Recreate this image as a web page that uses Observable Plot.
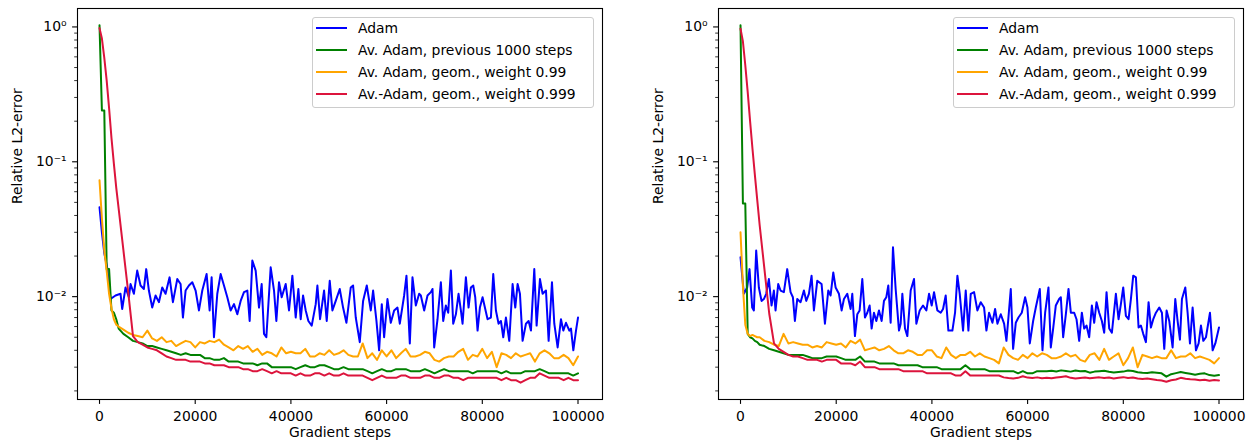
<!DOCTYPE html>
<html>
<head>
<meta charset="utf-8">
<script src="https://cdn.jsdelivr.net/npm/d3@7"></script>
<script src="https://cdn.jsdelivr.net/npm/@observablehq/plot@0.6"></script>
<style>
  body { margin: 0; background: white; }
  #wrap { position: relative; width: 1250px; height: 444px; display: flex; }
  .panel { position: relative; width: 625px; height: 444px; }
  .legend { position: absolute; top: 17px; width: 282px; height: 91px; box-sizing: border-box;
    border: 1px solid #cccccc; border-radius: 3px; background: rgba(255,255,255,0.8);
    font-family: "DejaVu Sans"; font-size: 13.9px; color: black; }
  .legend .h { position: absolute; left: 3px; width: 31px; height: 2px; }
  .legend .t { position: absolute; left: 45px; height: 22px; line-height: 22px; white-space: nowrap; }
</style>
</head>
<body>
<div id="wrap"></div>
<script>
const seriesNames = ["Adam", "Av. Adam, previous 1000 steps", "Av. Adam, geom., weight 0.99", "Av.-Adam, geom., weight 0.999"];
const seriesColors = ["blue", "green", "orange", "crimson"];
const xTicks = [0, 20000, 40000, 60000, 80000, 100000];
const yMajor = [1, 0.1, 0.01];
const yMajorLabels = ["10\u2070", "10\u207B\u00B9", "10\u207B\u00B2"];
const yMinor = [0.002,0.003,0.004,0.005,0.006,0.007,0.008,0.009,
                0.02,0.03,0.04,0.05,0.06,0.07,0.08,0.09,
                0.2,0.3,0.4,0.5,0.6,0.7,0.8,0.9];
const xLabel = "Gradient steps";
const yLabel = "Relative L2-error";

// shared step grid for the averaged series
const steps = [0,500,1000,1500,2000,2500,3000,3500,4000,
 5000,6000,7000,8000,9000,10000,11000,12000,13000,14000,
 15000,16000,17000,18000,19000,20000,21000,22000,23000,24000,
 25000,26000,27000,28000,29000,30000,31000,32000,33000,34000,
 35000,36000,37000,38000,39000,40000,41000,42000,43000,44000,
 45000,46000,47000,48000,49000,50000,51000,52000,53000,54000,
 55000,56000,57000,58000,59000,60000,61000,62000,63000,64000,
 65000,66000,67000,68000,69000,70000,71000,72000,73000,74000,
 75000,76000,77000,78000,79000,80000,81000,82000,83000,84000,
 85000,86000,87000,88000,89000,90000,91000,92000,93000,94000,
 95000,96000,97000,98000,99000,100000];

// ---- left panel ----
const adamStepsL = [0,500,1000,1600,2301,
 3347,4393,4742,5439,6137,6485,7182,7880,8577,9274,
 9762,10320,11017,11715,12412,13109,13807,14644,15341,16248,
 16945,17433,17991,18689,19386,20083,20781,21478,22385,23012,
 23431,23919,24616,25314,26011,26708,27406,28103,28800,29498,
 30195,30892,31380,31938,
 32635,33332,33890,34378,34866,35773,36470,36958,37516,38074,
 38911,39608,40305,41003,41560,42049,42537,43095,43653,44350,
 45186,45535,46093,46930,47487,48115,48673,49370,50207,50904,
 51602,52508,52996,53554,54391,55088,55855,56692,57180,57877,
 58435,58993,59481,60178,60876,61573,62270,62758,63665,64153,
 64850,65408,66105,66802,
 67156,67853,68551,69248,69597,69945,70642,71340,71828,72386,
 72874,73432,73920,74478,75035,75524,75872,76570,77127,77615,
 78104,78522,79010,79498,80056,80614,81102,81799,82287,82845,
 83403,83891,84379,84937,85634,86332,86889,87378,87866,88424,
 89121,89679,90167,90864,91352,92050,92607,93305,93863,94560,
 95048,95745,96443,96931,97489,98186,98535,99023,99580,100000];
const adamL = [0.046,0.030,0.021,0.0164,0.0096,
 0.0102,0.0105,0.0081,0.0117,0.0099,0.0124,0.0105,0.0156,0.0121,0.0114,
 0.0160,0.0111,0.0083,0.0102,0.0091,0.0117,0.0105,0.0139,0.0091,0.0135,
 0.0124,0.0070,0.0111,0.0121,0.0128,0.0111,0.0079,0.0111,0.0147,0.0079,
 0.0139,0.0050,0.0105,0.0147,0.0121,0.0099,0.0079,0.0088,0.0074,0.0093,
 0.0108,0.0111,0.0066,0.0185,
 0.0156,0.0083,0.0124,0.0053,0.0050,0.0165,0.0111,0.0066,0.0128,0.0099,
 0.0124,0.0079,0.0143,0.0070,0.0114,0.0068,0.0102,0.0079,0.0066,0.0061,
 0.0088,0.0121,0.0068,0.0111,0.0066,0.0131,0.0079,0.0093,0.0114,0.0083,
 0.0064,0.0117,0.0121,0.0070,0.0046,0.0093,0.0121,0.0079,0.0111,0.0066,
 0.0040,0.0088,0.0050,0.0096,0.0064,0.0079,0.0083,0.0063,0.0102,0.0143,
 0.0045,0.0139,0.0086,0.0105,
 0.0102,0.0079,0.0102,0.0108,0.0114,0.0042,0.0068,0.0128,0.0066,0.0086,
 0.0076,0.0156,0.0063,0.0074,0.0105,0.0079,0.0063,0.0139,0.0083,0.0117,
 0.0121,0.0099,0.0056,0.0083,0.0099,0.0081,0.0068,0.0070,0.0147,0.0079,
 0.0063,0.0066,0.0050,0.0070,0.0047,0.0124,0.0083,0.0124,0.0105,0.0047,
 0.0063,0.0066,0.0056,0.0160,0.0061,0.0135,0.0105,0.0111,0.0047,0.0128,
 0.0063,0.0042,0.0068,0.0056,0.0064,0.0056,0.0058,0.0040,0.0056,0.0070];
const avgL = [1.03,0.24,0.24,0.016,0.016,0.0079,0.0076,0.0068,0.0058,
 0.0053,0.0050,0.0047,0.0046,0.0045,0.0043,0.0043,0.0042,0.0041,0.0040,
 0.0039,0.0038,0.0037,0.0038,0.0037,0.0037,0.0037,0.0035,0.0035,0.0034,
 0.0034,0.0035,0.0033,0.0033,0.0033,0.0032,0.0032,0.0032,0.0031,0.0032,
 0.0032,0.0030,0.0030,0.0030,0.0030,0.0030,0.0029,0.0030,0.0031,0.0030,
 0.0030,0.0031,0.0031,0.0030,0.0029,0.0029,0.0030,0.0029,0.0029,0.0029,
 0.0029,0.0028,0.0027,0.0028,0.0029,0.0028,0.0028,0.0029,0.0029,0.0029,
 0.0028,0.0028,0.0028,0.0029,0.0028,0.0027,0.0028,0.0029,0.0028,0.0028,
 0.0028,0.0028,0.0028,0.0027,0.0028,0.0028,0.0028,0.0028,0.0028,0.0027,
 0.0028,0.0027,0.0027,0.0027,0.0028,0.0028,0.0028,0.0029,0.0028,0.0027,
 0.0027,0.0027,0.0027,0.0027,0.0026,0.0027];
const geo99L = [0.073,0.038,0.022,0.0155,0.0105,0.0082,0.0068,0.0062,0.0060,
 0.0057,0.0054,0.0052,0.0051,0.0050,0.0056,0.0049,0.0047,0.0050,0.0046,
 0.0047,0.0043,0.0045,0.0047,0.0046,0.0042,0.0046,0.0045,0.0047,0.0046,
 0.0048,0.0044,0.0042,0.0040,0.0043,0.0041,0.0043,0.0039,0.0041,0.0037,
 0.0039,0.0038,0.0036,0.0042,0.0038,0.0039,0.0038,0.0038,0.0041,0.0036,
 0.0036,0.0038,0.0037,0.0040,0.0037,0.0038,0.0040,0.0037,0.0036,0.0036,
 0.0045,0.0035,0.0038,0.0034,0.0040,0.0036,0.0040,0.0035,0.0038,0.0041,
 0.0036,0.0036,0.0037,0.0039,0.0038,0.0034,0.0033,0.0035,0.0036,0.0036,
 0.0039,0.0041,0.0034,0.0037,0.0036,0.0041,0.0035,0.0039,0.0030,0.0038,
 0.0037,0.0035,0.0038,0.0036,0.0037,0.0038,0.0033,0.0038,0.0040,0.0038,
 0.0035,0.0035,0.0037,0.0035,0.0031,0.0036];
const geo999L = [0.98,0.82,0.59,0.40,0.25,0.15,0.097,0.064,0.045,
 0.022,0.0108,0.0051,0.0046,0.0044,0.0042,0.0041,0.0040,0.0038,0.0036,
 0.0035,0.0034,0.0034,0.0034,0.0033,0.0033,0.0033,0.0032,0.0032,0.0031,
 0.0031,0.0031,0.0030,0.0030,0.0030,0.0029,0.0029,0.0028,0.0028,0.0029,
 0.0028,0.0027,0.0028,0.0027,0.0027,0.0027,0.0026,0.0027,0.0026,0.0026,
 0.0027,0.0027,0.0026,0.0027,0.0026,0.0026,0.0027,0.0026,0.0026,0.0026,
 0.0026,0.0025,0.0024,0.0025,0.0026,0.0025,0.0025,0.0025,0.0026,0.0026,
 0.0025,0.0025,0.0025,0.0026,0.0026,0.0025,0.0025,0.0026,0.0026,0.0025,
 0.0025,0.0024,0.0025,0.0025,0.0025,0.0025,0.0025,0.0025,0.0025,0.0024,
 0.0025,0.0024,0.0024,0.0023,0.0024,0.0025,0.0025,0.0027,0.0026,0.0025,
 0.0025,0.0025,0.0024,0.0025,0.0024,0.0024];

// ---- right panel ----
const adamStepsR = [0,697,1395,1883,2441,2789,3277,3835,4393,4881,
 5369,5927,6485,6973,7322,7880,8368,9065,9762,10459,
 10948,11366,11854,12551,13249,13737,14295,14852,15341,16038,
 16945,17642,18339,18827,19385,19873,20570,21128,21616,22314,
 23011,23360,23917,24405,24894,25451,26009,26497,26985,27404,
 27892,28380,28938,29496,29984,30472,30890,31378,31867,32424,
 33121,
 33472,33821,34378,34866,35564,36261,36749,37447,38144,38841,
 39399,39957,40445,41142,41840,42328,42886,43443,44280,44838,
 45326,45814,46511,47069,47627,48115,48813,49510,50207,50904,
 51393,51950,52648,53206,53694,54391,55088,55576,55995,56483,
 56971,57529,58086,58784,59481,59969,60457,61155,61713,62549,
 63107,63665,64362,64850,65339,65896,66593,
 66944,67432,67990,68548,69036,69733,70221,70779,71337,71825,
 72313,72871,73429,73917,74405,74963,75520,76009,76497,77055,
 77613,78449,79007,79495,79983,80541,81099,81587,82075,82633,
 83190,83679,84167,84725,85282,85771,86259,86817,87514,88072,
 88560,89048,89606,90303,90861,91349,91837,92256,92953,93441,
 93929,94487,95185,95742,96230,96719,97276,98113,98671,99229,
 100000];
const adamR = [0.0196,0.0105,0.0117,0.0160,0.0083,0.0079,0.0220,0.0117,0.0093,0.0096,
 0.0105,0.0135,0.0086,0.0111,0.0079,0.0124,0.0111,0.0108,0.0160,0.0108,
 0.0099,0.0066,0.0096,0.0091,0.0111,0.0093,0.0105,0.0143,0.0079,0.0131,
 0.0124,0.0063,0.0111,0.0102,0.0151,0.0117,0.0105,0.0079,0.0096,0.0105,
 0.0081,0.0105,0.0051,0.0074,0.0079,0.0135,0.0070,0.0076,0.0086,0.0058,
 0.0076,0.0066,0.0079,0.0066,0.0093,0.0099,0.0121,0.0064,0.0232,0.0114,
 0.0056,
 0.0063,0.0105,0.0058,0.0051,0.0111,0.0135,0.0063,0.0079,0.0086,0.0079,
 0.0105,0.0086,0.0108,0.0079,0.0076,0.0081,0.0102,0.0056,0.0056,0.0076,
 0.0143,0.0105,0.0056,0.0111,0.0056,0.0105,0.0108,0.0079,0.0091,0.0083,
 0.0056,0.0076,0.0064,0.0081,0.0063,0.0074,0.0063,0.0047,0.0070,0.0114,
 0.0041,0.0064,0.0070,0.0076,0.0099,0.0083,0.0045,0.0066,0.0083,0.0114,
 0.0040,0.0076,0.0117,0.0042,0.0058,0.0086,0.0096,
 0.0099,0.0050,0.0074,0.0114,0.0076,0.0076,0.0068,0.0047,0.0076,0.0058,
 0.0061,0.0050,0.0086,0.0064,0.0091,0.0076,0.0066,0.0054,0.0108,0.0058,
 0.0054,0.0105,0.0068,0.0088,0.0117,0.0072,0.0068,0.0096,0.0143,0.0139,
 0.0059,0.0061,0.0053,0.0046,0.0091,0.0059,0.0068,0.0076,0.0083,0.0076,
 0.0041,0.0079,0.0066,0.0042,0.0096,0.0066,0.0048,0.0096,0.0117,0.0076,
 0.0045,0.0083,0.0040,0.0045,0.0061,0.0047,0.0050,0.0076,0.0040,0.0045,
 0.0059];
const avgR = [1.03,0.049,0.049,0.0053,0.0050,0.0049,0.0047,0.0046,0.0044,
 0.0043,0.0041,0.0040,0.0039,0.0038,0.0037,0.0037,0.0037,0.0037,0.0036,
 0.0035,0.0035,0.0035,0.0036,0.0036,0.0036,0.0035,0.0034,0.0034,0.0034,
 0.0036,0.0033,0.0033,0.0033,0.0032,0.0032,0.0032,0.0032,0.0031,0.0031,
 0.0031,0.0031,0.0031,0.0030,0.0030,0.0030,0.0030,0.0029,0.0029,0.0029,
 0.0029,0.0029,0.0031,0.0029,0.0029,0.0029,0.0029,0.0028,0.0028,0.0028,
 0.0028,0.0028,0.0028,0.0027,0.0028,0.0027,0.0027,0.0028,0.0028,0.0028,
 0.00282,0.00279,0.00284,0.00281,0.00278,0.00283,0.00280,0.00281,0.00273,0.00278,
 0.00280,0.00282,0.00277,0.00274,0.00276,0.00278,0.00283,0.00281,0.00275,0.00273,
 0.00272,0.00275,0.00273,0.00270,0.00255,0.00266,0.00271,0.00276,0.00272,0.00268,
 0.00264,0.00268,0.00270,0.00262,0.00259,0.00262];
const geo99R = [0.030,0.012,0.0062,0.0053,0.0051,0.0052,0.0051,0.0050,0.0050,
 0.0047,0.0046,0.0044,0.0043,0.0053,0.0045,0.0046,0.0045,0.0044,0.0044,
 0.0042,0.0043,0.0042,0.0046,0.0045,0.0044,0.0045,0.0042,0.0047,0.0045,
 0.0048,0.0040,0.0041,0.0042,0.0040,0.0041,0.0043,0.0040,0.0038,0.0038,
 0.0040,0.0039,0.0037,0.0037,0.0040,0.0040,0.0036,0.0035,0.0042,0.0037,
 0.0035,0.0037,0.0037,0.0039,0.0036,0.0038,0.0036,0.0035,0.0034,0.0032,
 0.0042,0.0037,0.0035,0.0034,0.0037,0.0035,0.0038,0.0036,0.0038,0.0037,
 0.0035,0.0035,0.0036,0.0038,0.0036,0.0037,0.0034,0.0033,0.0037,0.0038,
 0.0034,0.0041,0.0034,0.0036,0.0038,0.0031,0.0035,0.0042,0.0030,0.0037,
 0.0036,0.0035,0.0036,0.0035,0.0035,0.0040,0.0035,0.0036,0.0036,0.0038,
 0.0035,0.0036,0.0035,0.0034,0.0032,0.0035];
const geo999R = [0.97,0.78,0.52,0.33,0.20,0.125,0.080,0.052,0.034,
 0.016,0.0075,0.0045,0.0041,0.0039,0.0037,0.0036,0.0036,0.0035,0.0034,
 0.0034,0.0034,0.0033,0.0034,0.0034,0.0034,0.0032,0.0032,0.0032,0.0031,
 0.0033,0.0030,0.0030,0.0030,0.0029,0.0029,0.0029,0.0029,0.0029,0.0028,
 0.0028,0.0028,0.0028,0.0028,0.0027,0.0027,0.0027,0.0027,0.0027,0.0027,
 0.0026,0.0026,0.0028,0.0026,0.0026,0.0026,0.0026,0.0026,0.0026,0.0026,
 0.00252,0.00249,0.00247,0.00250,0.00257,0.00251,0.00249,0.00252,0.00248,0.00250,
 0.00248,0.00251,0.00254,0.00257,0.00250,0.00247,0.00249,0.00251,0.00248,0.00250,
 0.00252,0.00249,0.00251,0.00247,0.00250,0.00253,0.00249,0.00251,0.00247,0.00245,
 0.00247,0.00244,0.00241,0.00239,0.00234,0.00240,0.00243,0.00250,0.00246,0.00244,
 0.00243,0.00240,0.00242,0.00238,0.00241,0.00239];

const panels = [
  {adamSteps: adamStepsL, series: [adamL, avgL, geo99L, geo999L], marginLeft: 77, marginRight: 23},
  {adamSteps: adamStepsR, series: [adamR, avgR, geo99R, geo999R], marginLeft: 93, marginRight: 7}
];

const wrap = document.getElementById("wrap");
panels.forEach((p, pi) => {
  const data = [];
  p.series.forEach((arr, k) => {
    const xs = k === 0 ? p.adamSteps : steps;
    if (arr.length !== xs.length) throw new Error("panel " + pi + " series " + k + " length " + arr.length + " vs " + xs.length);
    arr.forEach((v, i) => data.push({step: xs[i], value: v, name: seriesNames[k]}));
  });

  const chart = Plot.plot({
    width: 625, height: 444,
    marginLeft: p.marginLeft, marginRight: p.marginRight, marginTop: 8, marginBottom: 45,
    style: {fontFamily: "DejaVu Sans", fontSize: "13.9px", color: "black", background: "white", overflow: "visible"},
    x: {domain: [-4600, 105120]},
    y: {type: "log", domain: [0.001727, 1.37]},
    color: {domain: seriesNames, range: seriesColors},
    marks: [
      Plot.axisX({ticks: xTicks, tickSize: 4.9, tickPadding: 7, strokeWidth: 1.1, tickFormat: d => String(d), label: null}),
      Plot.axisY({ticks: yMajor, tickSize: 4.9, tickPadding: 6, strokeWidth: 1.1, tickFormat: d => yMajorLabels[yMajor.indexOf(d)], label: null}),
      Plot.axisY({ticks: yMinor, tickSize: 2.8, strokeWidth: 0.8, tickFormat: () => "", label: null}),
      Plot.lineY(data, {x: "step", y: "value", z: "name", stroke: "name", strokeWidth: 2}),
      Plot.frame({stroke: "black", strokeWidth: 1.1}),
      Plot.text([xLabel], {text: d => d, frameAnchor: "bottom", dy: 37, fontSize: 13.9, fill: "black"}),
      Plot.text([yLabel], {text: d => d, frameAnchor: "left", rotate: -90, dx: -60, fontSize: 13.9, fill: "black"})
    ]
  });

  const div = document.createElement("div");
  div.className = "panel";
  div.appendChild(chart);

  const leg = document.createElement("div");
  leg.className = "legend";
  leg.style.left = (p.marginLeft + 235) + "px";
  seriesNames.forEach((name, k) => {
    const c = 10 + 22.1 * k;
    const h = document.createElement("div");
    h.className = "h";
    h.style.top = (c - 1) + "px";
    h.style.background = seriesColors[k];
    const t = document.createElement("div");
    t.className = "t";
    t.style.top = (c - 11) + "px";
    t.textContent = name;
    leg.appendChild(h);
    leg.appendChild(t);
  });
  div.appendChild(leg);
  wrap.appendChild(div);
});
</script>
</body>
</html>
